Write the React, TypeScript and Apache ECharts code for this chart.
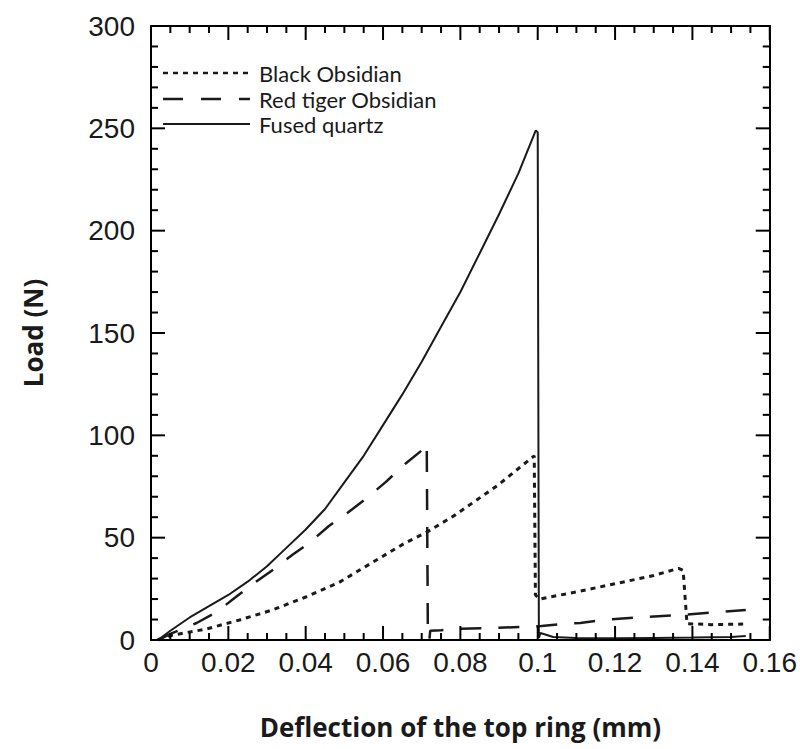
import React, { useEffect, useRef } from "react";
import * as echarts from "echarts";

// ---- tick values ----
const xTickValues = [0, 0.02, 0.04, 0.06, 0.08, 0.1, 0.12, 0.14, 0.16];
const yTickValues = [0, 50, 100, 150, 200, 250, 300];
const xMinorSplit = 4;
const yMinorSplit = 5;

// ---- series names ----
const seriesNames = ["Black Obsidian", "Red tiger Obsidian", "Fused quartz"];

// ---- Black Obsidian (dotted) ----
const blackX = [0.002, 0.0056, 0.0144, 0.0229, 0.0313, 0.04, 0.0485, 0.057, 0.0657, 0.0716, 0.0786, 0.0896, 0.0991, 0.0994, 0.1005, 0.11, 0.12, 0.13, 0.1364, 0.1376, 0.1386, 0.145, 0.1538];
const blackY = [0, 2.4, 5.4, 9.8, 14.6, 21, 28, 37.6, 47.4, 53, 61, 75.5, 90, 22, 20, 23.5, 27.5, 31.5, 35, 34, 8, 7.5, 7.8];

// ---- Red tiger Obsidian (dashed) ----
const redX = [0.002, 0.005, 0.0118, 0.017, 0.0216, 0.0267, 0.0313, 0.0365, 0.0413, 0.046, 0.0511, 0.0562, 0.0606, 0.0657, 0.0709, 0.0713, 0.0716, 0.072, 0.0722, 0.075, 0.08, 0.09, 0.0966, 0.101, 0.1063, 0.111, 0.117, 0.126, 0.1366, 0.147, 0.1538];
const redY = [0, 3, 8.3, 13.7, 20.5, 27.8, 34, 41.5, 48, 55.7, 62.5, 70, 77, 86, 94, 96, 0.5, 0.5, 4.5, 4.8, 5.5, 6, 6.4, 6.8, 7.8, 8.3, 9.8, 11, 12.2, 13.7, 14.7];

// ---- Fused quartz (solid) ----
const fusedX = [0.0015, 0.0025, 0.005, 0.01, 0.015, 0.02, 0.025, 0.03, 0.035, 0.04, 0.045, 0.05, 0.055, 0.06, 0.065, 0.07, 0.075, 0.08, 0.085, 0.09, 0.095, 0.0995, 0.1, 0.1003, 0.1007, 0.104, 0.11, 0.12, 0.13, 0.14, 0.15, 0.1538];
const fusedY = [0, 1, 4.5, 11, 16.5, 22, 28.5, 36, 45, 54, 64, 77, 90, 105, 120, 136, 153, 170, 189, 208, 228, 249, 248, 1, 3.4, 1.5, 1, 0.8, 1, 1.2, 1.5, 2];

const zip = (xs: number[], ys: number[]) => xs.map((x, i) => [x, ys[i]]);

const INK = "#1a1a1a";
const TICK = "#000000";

// tick marks: [kind (0 = x, 1 = y), value, isMajor]
function tickItems(): number[][] {
  const items: number[][] = [];
  const add = (kind: number, majors: number[], split: number) => {
    majors.forEach((m, i) => {
      items.push([kind, m, 1]);
      if (i < majors.length - 1) {
        const step = (majors[i + 1] - m) / split;
        for (let k = 1; k < split; k++) items.push([kind, m + step * k, 0]);
      }
    });
  };
  add(0, xTickValues, xMinorSplit);
  add(1, yTickValues, yMinorSplit);
  return items;
}

const axisParts = () => ({
  axisLine: { show: true, onZero: false, lineStyle: { color: TICK, width: 2 } },
  axisTick: { show: false },
  minorTick: { show: false },
  splitLine: { show: false },
});

function buildOption() {
  const legendRows = [
    { y: 73, dash: [5, 5], width: 2.5 },
    { y: 99, dash: [20, 18], width: 2.5 },
    { y: 124, dash: null as number[] | null, width: 2 },
  ];
  const graphic: any[] = [];
  legendRows.forEach((r, i) => {
    graphic.push({
      type: "line",
      shape: { x1: 163, y1: r.y, x2: 250, y2: r.y },
      style: { stroke: INK, lineWidth: r.width, lineDash: r.dash || undefined },
      silent: true,
    });
    graphic.push({
      type: "text",
      x: 259,
      y: r.y,
      style: { text: seriesNames[i], fill: INK, font: "22px Lato", verticalAlign: "middle", align: "left" },
      silent: true,
    });
  });

  const xMin = xTickValues[0];
  const xMax = xTickValues[xTickValues.length - 1];
  const yMin = yTickValues[0];
  const yMax = yTickValues[yTickValues.length - 1];

  const renderTick = (params: any, api: any) => {
    const cs = params.coordSys;
    const kind = api.value(0);
    const v = api.value(1);
    const len = api.value(2) ? 14 : 7;
    const style = { stroke: TICK, lineWidth: 2 };
    if (kind === 0) {
      const x = api.coord([v, yMin])[0];
      const bottom = cs.y + cs.height;
      return {
        type: "group",
        children: [
          { type: "line", shape: { x1: x, y1: bottom, x2: x, y2: bottom - len }, style },
          { type: "line", shape: { x1: x, y1: cs.y, x2: x, y2: cs.y + len }, style },
        ],
      };
    }
    const y = api.coord([xMin, v])[1];
    const right = cs.x + cs.width;
    return {
      type: "group",
      children: [
        { type: "line", shape: { x1: cs.x, y1: y, x2: cs.x + len, y2: y }, style },
        { type: "line", shape: { x1: right, y1: y, x2: right - len, y2: y }, style },
      ],
    };
  };

  return {
    animation: false,
    backgroundColor: "#ffffff",
    grid: { left: 151, right: 27, top: 26, bottom: 109 },
    xAxis: [
      {
        type: "value", min: xMin, max: xMax, interval: 0.02, position: "bottom",
        ...axisParts(),
        axisLabel: {
          show: true, margin: 8, color: INK, fontSize: 28, fontFamily: "Liberation Sans",
          formatter: (v: number) => {
            const t = xTickValues.find((x) => Math.abs(x - v) < 1e-9);
            return t === undefined ? "" : String(t);
          },
        },
        name: "Deflection of the top ring (mm)",
        nameLocation: "middle",
        nameGap: 74,
        nameTextStyle: { color: INK, fontSize: 26, fontWeight: "bold", fontFamily: "Open Sans" },
      },
      {
        type: "value", min: xMin, max: xMax, interval: 0.02, position: "top",
        ...axisParts(),
        axisLabel: { show: false },
      },
    ],
    yAxis: [
      {
        type: "value", min: yMin, max: yMax, interval: 50, position: "left",
        ...axisParts(),
        axisLabel: { show: true, margin: 16, color: INK, fontSize: 28, fontFamily: "Liberation Sans" },
        name: "Load (N)",
        nameLocation: "middle",
        nameRotate: 90,
        nameGap: 105,
        nameTextStyle: { color: INK, fontSize: 26, fontWeight: "bold", fontFamily: "Open Sans" },
      },
      {
        type: "value", min: yMin, max: yMax, interval: 50, position: "right",
        ...axisParts(),
        axisLabel: { show: false },
      },
    ],
    series: [
      {
        name: "ticks",
        type: "custom",
        xAxisIndex: 0,
        yAxisIndex: 0,
        silent: true,
        clip: false,
        z: 5,
        encode: { x: 1, y: 1 },
        data: tickItems(),
        renderItem: renderTick,
      },
      {
        name: seriesNames[0], type: "line", xAxisIndex: 0, yAxisIndex: 0, showSymbol: false, symbol: "none",
        data: zip(blackX, blackY), lineStyle: { color: INK, width: 3, type: [5, 5] },
      },
      {
        name: seriesNames[1], type: "line", xAxisIndex: 0, yAxisIndex: 0, showSymbol: false, symbol: "none",
        data: zip(redX, redY), lineStyle: { color: INK, width: 2.5, type: [21, 17] },
      },
      {
        name: seriesNames[2], type: "line", xAxisIndex: 0, yAxisIndex: 0, showSymbol: false, symbol: "none",
        data: zip(fusedX, fusedY), lineStyle: { color: INK, width: 2, type: "solid" },
      },
    ],
    graphic,
  };
}

export default function App() {
  const ref = useRef<HTMLDivElement>(null);
  useEffect(() => {
    if (!ref.current) return;
    const chart = echarts.init(ref.current, undefined, { renderer: "svg" });
    chart.setOption(buildOption() as any);
    return () => chart.dispose();
  }, []);
  return <div ref={ref} style={{ width: 800, height: 749, position: "absolute", left: 0, top: 0 }} />;
}
